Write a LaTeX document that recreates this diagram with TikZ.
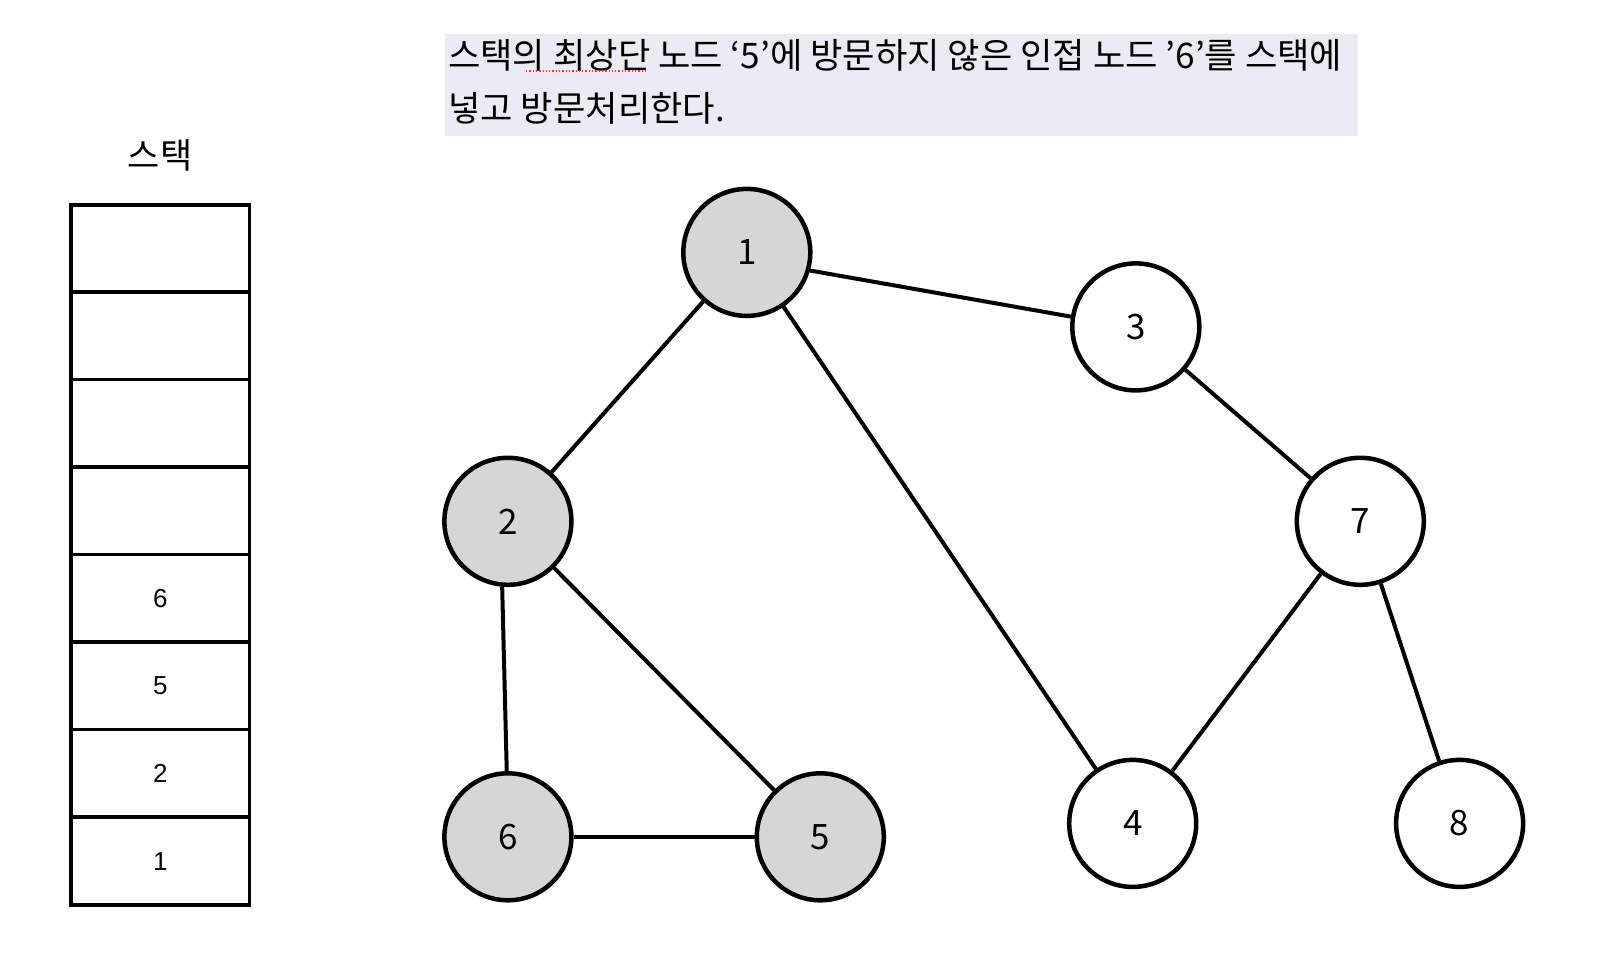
\documentclass[tikz,border=0pt]{standalone}
\usepackage{fontspec}
\setmainfont{Liberation Sans}
\newfontfamily\kr{Noto Sans CJK KR}
\definecolor{hdrbg}{HTML}{ECEAF4}
\definecolor{visited}{HTML}{D6D6D6}
\begin{document}
\begin{tikzpicture}[x=1pt,y=-1pt,
  gnode/.style={circle,draw=black,line width=4.5pt,minimum size=127pt,inner sep=0pt,fill=white,font=\kr\fontsize{35}{40}\selectfont},
  seen/.style={fill=visited},
  edge/.style={line width=4pt},
  cell/.style={minimum width=178pt,minimum height=87.5pt,inner sep=0pt,font=\fontsize{26}{30}\selectfont}]
\useasboundingbox (0,0) rectangle (1622,976);
\fill[white] (0,0) rectangle (1622,976);
% header
\fill[hdrbg] (445,34) rectangle (1358,136);
\node[anchor=north west,align=left,inner sep=0pt,font=\kr\fontsize{35.2}{53}\selectfont] (hdr) at (448,39)
 {스택의 최상단 노드 ‘5’에 방문하지 않은 인접 노드 ’6’를 스택에\\넣고 방문처리한다.};
\draw[red!80,line width=1.3pt,dotted] (526,71) -- (648,71);
% stack
\node[font=\kr\fontsize{35}{40}\selectfont] (stk) at (160,155) {스택};
\foreach \i/\t in {0/,1/,2/,3/,4/6,5/5,6/2,7/1}{
  \node[cell] (c\i) at (160.3,{248.6+87.5*\i}) {\t};
}
\foreach \i in {1,...,7}{
  \draw[line width=3.5pt] (c\i.north west) -- (c\i.north east);
}
\draw[line width=3.8pt] (c0.north west) rectangle (c7.south east);
% graph nodes
\node[gnode,seen] (n1) at (746.8,252.4) {1};
\node[gnode] (n3) at (1135.8,326.9) {3};
\node[gnode,seen] (n2) at (507.9,521.3) {2};
\node[gnode] (n7) at (1360.3,521.3) {7};
\node[gnode,seen] (n6) at (507.9,836.8) {6};
\node[gnode,seen] (n5) at (820.3,836.8) {5};
\node[gnode] (n4) at (1132.7,823.4) {4};
\node[gnode] (n8) at (1459.6,823.4) {8};
% edges
\draw[edge] (n1.-16) -- (n3.171);
\draw[edge] (n1) -- (n2);
\draw[edge] (n1) -- (n4);
\draw[edge] (n3) -- (n7);
\draw[edge] (n2.265) -- (n6.91);
\draw[edge] (n2) -- (n5);
\draw[edge] (n6) -- (n5);
\draw[edge] (n7) -- (n4);
\draw[edge] (n7) -- (n8);
\end{tikzpicture}
\end{document}
